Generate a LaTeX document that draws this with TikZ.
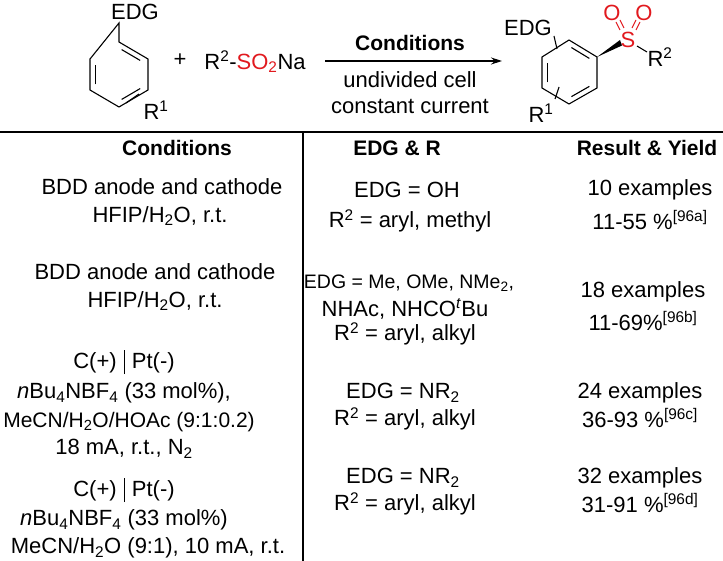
\documentclass[tikz,border=0pt]{standalone}
\usepackage{fontspec}
\setmainfont{Liberation Sans}
\usetikzlibrary{arrows.meta,calc}
\usetikzlibrary{positioning}
\definecolor{chemred}{RGB}{225,25,30}
\tikzset{%
 >={Stealth[length=11pt,width=7pt]},
 txt/.style={inner sep=0pt, font=\fontsize{22}{26}\selectfont},
 hdr/.style={txt, font=\fontsize{21}{26}\selectfont\bfseries},
 bond/.style={line width=1.1pt}
}
\newcommand\Rsup[1]{R\textsuperscript{#1}}
\newcommand\sbs[1]{\textsubscript{#1}}
\newcommand\cpt{C(+)\,\,\rule[-0.25em]{0.6pt}{1.1em}\,\,Pt(-)}

\begin{document}
\begin{tikzpicture}[x=1pt, y=-1pt]
 \useasboundingbox (0,0) rectangle (723,561);
 % reactant ring
 \foreach \n/\x/\y in {a/119/42, b/148/59, c/148/90, d/119/107, e/90/90, f/90/59}
  \coordinate (l\n) at (\x,\y);
 \node [txt] (ledg) at (135,12) {EDG};
 \draw [bond] (119,23) -- (la) -- (lb) -- (lc) -- (ld) -- (le) -- (lf) -- cycle;
 \draw [bond] ($(la)!.18!(lb)+(-2.6,4.5)$) -- ($(la)!.82!(lb)+(-2.6,4.5)$);
 \draw [bond] ($(le)!.18!(lf)+(5.2,0)$) -- ($(le)!.82!(lf)+(5.2,0)$);
 \draw [bond] ($(lc)!.18!(ld)+(-2.6,-4.5)$) -- ($(lc)!.82!(ld)+(-2.6,-4.5)$);
 \draw [bond] (126,103) -- (139,94);
 \node [txt] (lr1) at (156,110) {\Rsup{1}};
 \node [txt] (plus) at (180,60) {+};
 \node [txt] (salt) at (255,62) {\Rsup{2}-\textcolor{chemred}{SO\sbs{2}}Na};
 % arrow
 \coordinate (arrs) at (325,61);
 \coordinate (arre) at (502,61);
 \draw [line width=1.1pt, ->] (arrs) -- (arre);
 \node [hdr] (cond) at (410,43) {Conditions};
 \node [txt] (cell) at (410,80) {undivided cell};
 \node [txt] (curr) at (410,106) {constant current};
 % product ring
 \foreach \n/\x/\y in {a/569/40, b/597/57, c/597/88, d/569/104, e/542/88, f/542/57}
  \coordinate (p\n) at (\x,\y);
 \draw [bond] (pa) -- (pb) -- (pc) -- (pd) -- (pe) -- (pf) -- cycle;
 \draw [bond] ($(pa)!.18!(pb)+(-2.6,4.5)$) -- ($(pa)!.82!(pb)+(-2.6,4.5)$);
 \draw [bond] ($(pe)!.18!(pf)+(5.2,0)$) -- ($(pe)!.82!(pf)+(5.2,0)$);
 \draw [bond] ($(pc)!.18!(pd)+(-2.6,-4.5)$) -- ($(pc)!.82!(pd)+(-2.6,-4.5)$);
 \node [txt, chemred] (sul) at (628,40) {S};
 \fill (pb) -- (620,40) -- (622,45.5) -- cycle;
 \node [txt, chemred] (ox1) at (612,13) {O};
 \node [txt, chemred] (ox2) at (644,13) {O};
 \draw [bond, chemred] (620,30) -- (616,22) (624,28) -- (620,20);
 \draw [bond, chemred] (632,28) -- (636,20) (636,30) -- (640,22);
 \draw [bond] (637,46) -- (647,52);
 \node [txt] (pr2) at (660,57) {\Rsup{2}};
 \node [txt] (pedg) at (528,28) {EDG};
 \draw [bond] (554,36) -- (557,49);
 \draw [bond] (559,87) -- (555,99);
 \node [txt] (pr1) at (541,113) {\Rsup{1}};
 % table
 \draw [line width=1.2pt] (0,132) -- (723,132);
 \draw [line width=1.2pt] (303,132) -- (303,561);
 \node [hdr] (hc) at (177,148) {Conditions};
 \node [hdr] (he) at (397,148) {EDG \& R};
 \node [hdr] (hr) at (647,148) {Result \& Yield};
 % conditions column
 \node [txt] (c1a) at (162,187) {BDD anode and cathode};
 \node [txt] (c1b) at (160,216) {HFIP/H\sbs{2}O, r.t.};
 \node [txt] (c2a) at (155,272) {BDD anode and cathode};
 \node [txt] (c2b) at (155,301) {HFIP/H\sbs{2}O, r.t.};
 \node [txt] (c3a) at (124,362) {\cpt};
 \node [txt] (c3b) at (124,393) {\textit{n}Bu\sbs{4}NBF\sbs{4} (33 mol\%),};
 \node [txt, font=\fontsize{21}{26}\selectfont] (c3c) at (129,422) {MeCN/H\sbs{2}O/HOAc (9:1:0.2)};
 \node [txt] (c3d) at (124,449) {18 mA, r.t., N\sbs{2}};
 \node [txt] (c4a) at (124,490) {\cpt};
 \node [txt] (c4b) at (124,520) {\textit{n}Bu\sbs{4}NBF\sbs{4} (33 mol\%)};
 \node [txt] (c4c) at (148,548) {MeCN/H\sbs{2}O (9:1), 10 mA, r.t.};
 % EDG column
 \node [txt] (e1a) at (407,190) {EDG = OH};
 \node [txt] (e1b) at (410,221) {\Rsup{2} = aryl, methyl};
 \node [txt, font=\fontsize{19.5}{26}\selectfont] (e2a) at (409,283) {EDG = Me, OMe, NMe\sbs{2},};
 \node [txt] (e2b) at (405,309) {NHAc, NHCO\textsuperscript{\textit{t}}Bu};
 \node [txt] (e2c) at (405,334) {\Rsup{2} = aryl, alkyl};
 \node [txt] (e3a) at (403,393) {EDG = NR\sbs{2}};
 \node [txt] (e3b) at (405,419) {\Rsup{2} = aryl, alkyl};
 \node [txt] (e4a) at (403,478) {EDG = NR\sbs{2}};
 \node [txt] (e4b) at (405,504) {\Rsup{2} = aryl, alkyl};
 % results column
 \node [txt] (r1a) at (650,190) {10 examples};
 \node [txt] (r1b) at (650,220) {11-55 \%\textsuperscript{[96a]}};
 \node [txt] (r2a) at (643,292) {18 examples};
 \node [txt] (r2b) at (643,321) {11-69\%\textsuperscript{[96b]}};
 \node [txt] (r3a) at (640,393) {24 examples};
 \node [txt] (r3b) at (640,418) {36-93 \%\textsuperscript{[96c]}};
 \node [txt] (r4a) at (640,478) {32 examples};
 \node [txt] (r4b) at (640,503) {31-91 \%\textsuperscript{[96d]}};
\end{tikzpicture}
\end{document}
